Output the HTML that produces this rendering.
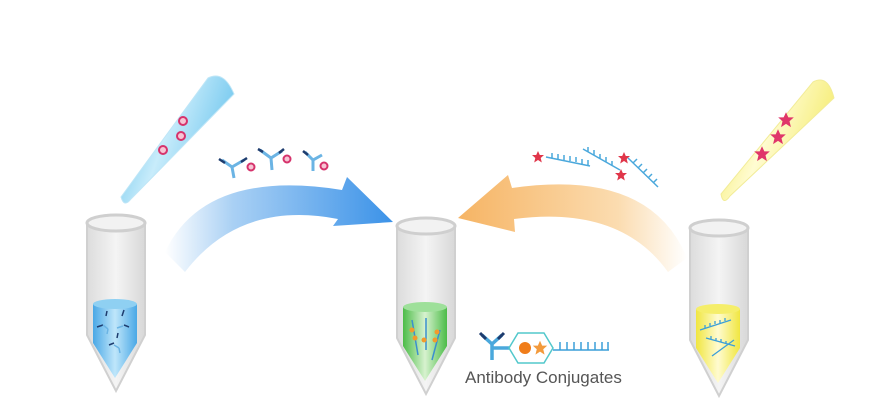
<!DOCTYPE html>
<html><head><meta charset="utf-8"><style>html,body{margin:0;padding:0;background:#fff}svg{display:block}</style></head><body>
<svg width="891" height="408" viewBox="0 0 891 408" xmlns="http://www.w3.org/2000/svg">
<defs>
<linearGradient id="tube" x1="0" x2="1"><stop offset="0" stop-color="#dcdcdc"/><stop offset="0.5" stop-color="#f4f4f4"/><stop offset="1" stop-color="#d8d8d8"/></linearGradient>
<linearGradient id="blueL" x1="0" x2="1"><stop offset="0" stop-color="#4aa8e6"/><stop offset="0.5" stop-color="#bfe6fa"/><stop offset="1" stop-color="#4aa8e6"/></linearGradient>
<linearGradient id="greenL" x1="0" x2="1"><stop offset="0" stop-color="#4cbc48"/><stop offset="0.5" stop-color="#d7f2cf"/><stop offset="1" stop-color="#4cbc48"/></linearGradient>
<linearGradient id="yelL" x1="0" x2="1"><stop offset="0" stop-color="#f0e640"/><stop offset="0.5" stop-color="#fffbd0"/><stop offset="1" stop-color="#f0e640"/></linearGradient>
<linearGradient id="bArr" x1="0" x2="1"><stop offset="0" stop-color="#ffffff"/><stop offset="0.3" stop-color="#a9d0f4"/><stop offset="1" stop-color="#3b92e8"/></linearGradient>
<linearGradient id="oArr" x1="1" x2="0"><stop offset="0" stop-color="#ffffff"/><stop offset="0.3" stop-color="#fbdcb0"/><stop offset="1" stop-color="#f6b464"/></linearGradient>
<linearGradient id="pipB" x1="0" x2="1" y1="0" y2="0.4"><stop offset="0" stop-color="#59bde8"/><stop offset="0.5" stop-color="#c8ecfb"/><stop offset="1" stop-color="#6fc6ee"/></linearGradient>
<linearGradient id="pipY" x1="0" x2="1" y1="0" y2="0.4"><stop offset="0" stop-color="#f3e850"/><stop offset="0.5" stop-color="#fffcd2"/><stop offset="1" stop-color="#f5ec70"/></linearGradient>
<g id="tubeG">
<path d="M0,0 L58,0 L58,112 L29,168 L0,112 Z" fill="url(#tube)" stroke="#d0d0d0" stroke-width="2"/>
<ellipse cx="29" cy="0" rx="29" ry="8" fill="#f2f2f2" stroke="#cfcfcf" stroke-width="3"/>
</g>
<path id="star" d="M0,-6 L1.8,-2 L6,-2 L2.7,1 L3.8,5.5 L0,3 L-3.8,5.5 L-2.7,1 L-6,-2 L-1.8,-2 Z"/>
</defs>

<!-- left pipette -->
<path d="M208,78 Q224,70 234,94 L131,199 Q124,208 121,197 Z" fill="url(#pipB)" stroke="#bfe6f7" stroke-width="1"/>
<g fill="#f7c4d4" stroke="#d6336c" stroke-width="2"><circle cx="183" cy="121" r="4"/><circle cx="181" cy="136" r="4"/><circle cx="163" cy="150" r="4"/></g>

<!-- right pipette -->
<path d="M813,82 Q828,74 834,98 L730,196 Q723,206 721,194 Z" fill="url(#pipY)" stroke="#f2ec98" stroke-width="1"/>
<g fill="#e0366a"><use href="#star" transform="translate(786,120) scale(1.3)"/><use href="#star" transform="translate(778,137) scale(1.3)"/><use href="#star" transform="translate(762,154) scale(1.3)"/></g>

<!-- blue arrow -->
<path d="M165,252 Q205,168 342,190 L347,177 L393,222 L333,226 L338,219 Q240,200 185,272 Z" fill="url(#bArr)"/>
<!-- orange arrow -->
<path d="M687,258 Q650,168 512,188 L508,175 L458,218 L515,232 L514,219 Q620,205 668,272 Z" fill="url(#oArr)"/>

<!-- antibodies above blue arrow -->
<g stroke="#6bb4e4" stroke-width="3" fill="none">
<path d="M222,160 L232,167 L244,160 M232,167 L234,178"/>
<path d="M260,150 L271,158 L282,151 M271,158 L272,170"/>
<path d="M305,152 L313,160 L322,155 M313,160 L313,171"/>
</g>
<g stroke="#1e3c6e" stroke-width="2.5"><path d="M219,159 L225,163 M247,158 L241,162 M258,149 L263,152 M284,149 L279,153 M303,151 L308,155"/></g>
<g fill="#f7c4d4" stroke="#d6336c" stroke-width="2"><circle cx="251" cy="167" r="3.5"/><circle cx="287" cy="159" r="3.5"/><circle cx="324" cy="166" r="3.5"/></g>

<!-- DNA strands with stars -->
<g stroke="#4aa8dc" stroke-width="1.5" fill="none">
<path d="M546,157 L590,166 M552,158 v-5 M558,159 v-5 M564,160 v-5 M570,161 v-5 M576,162 v-5 M582,164 v-5 M588,165 v-5"/>
<path d="M583,149 L620,170 M588,152 v-5 M594,155 v-5 M600,159 v-5 M606,162 v-5 M612,166 v-5"/>
<path d="M628,158 L658,187 M633,163 l4,-4 M638,168 l4,-4 M643,173 l4,-4 M648,178 l4,-4 M653,183 l4,-4"/>
</g>
<g fill="#e0364a"><use href="#star" transform="translate(538,157)"/><use href="#star" transform="translate(624,158)"/><use href="#star" transform="translate(621,175)"/></g>

<!-- tubes -->
<use href="#tubeG" transform="translate(87,223)"/>
<use href="#tubeG" transform="translate(397,226)"/>
<use href="#tubeG" transform="translate(690,228)"/>

<!-- liquids -->
<path d="M93,304 L137,304 L137,343 L115,378 L93,343 Z" fill="url(#blueL)"/>
<ellipse cx="115" cy="304" rx="22" ry="5" fill="#8fd0f2"/>
<g stroke="#1e3c6e" stroke-width="1.5"><path d="M97,327 l6,-2 M106,316 l1,-5 M122,316 l2,-6 M124,325 l5,2 M109,345 l5,-2 M117,338 l1,-5"/></g>
<g stroke="#6bb4e4" stroke-width="1.5"><path d="M103,325 l5,4 M108,329 l-1,5 M117,328 l6,-2 M114,345 l5,3 M119,348 l1,5"/></g>

<path d="M403,307 L447,307 L447,346 L425,381 L403,346 Z" fill="url(#greenL)"/>
<ellipse cx="425" cy="307" rx="22" ry="5" fill="#9ee09a"/>
<g stroke="#3b8fcf" stroke-width="1.5"><path d="M412,320 L418,355 M426,318 L426,350 M440,330 L432,360"/></g>
<g fill="#f39a2c"><circle cx="412" cy="330" r="2.5"/><circle cx="415" cy="338" r="2.5"/><circle cx="424" cy="340" r="2.5"/><circle cx="437" cy="332" r="2.5"/><circle cx="435" cy="340" r="2.5"/></g>

<path d="M696,309 L740,309 L740,348 L718,383 L696,348 Z" fill="url(#yelL)"/>
<ellipse cx="718" cy="309" rx="22" ry="5" fill="#f5ee6a"/>
<g stroke="#3b9fd8" stroke-width="1.3" fill="none"><path d="M700,330 L731,320 M705,328 v-3 M710,326 v-3 M715,324 v-3 M720,323 v-3 M725,321 v-3 M706,338 L735,346 M711,339 v-3 M716,341 v-3 M721,342 v-3 M726,344 v-3 M712,356 L734,340"/></g>

<!-- conjugate icon -->
<g stroke="#4aa8dc" stroke-width="3.5" fill="none"><path d="M482,335 L492,344 L502,335 M492,344 L492,360 M492,348 L514,348"/></g>
<g stroke="#1e3c6e" stroke-width="3"><path d="M480,333 L486,339 M504,333 L498,339"/></g>
<path d="M518,333 L544,333 L553,348 L544,363 L518,363 L509,348 Z" fill="#fff" stroke="#52c8cc" stroke-width="1.5"/>
<circle cx="525" cy="348" r="6" fill="#f07d1a"/>
<use href="#star" transform="translate(540,348) scale(1.2)" fill="#f39a3c"/>
<g stroke="#3b9fd8" stroke-width="1.5"><path d="M553,350 L609,350 M560,350 v-8 M567,350 v-8 M574,350 v-8 M581,350 v-8 M588,350 v-8 M595,350 v-8 M602,350 v-8 M608,350 v-8"/></g>
<text x="465" y="383" font-family="Liberation Sans, sans-serif" font-size="17" fill="#555">Antibody Conjugates</text>
</svg>
</body></html>
